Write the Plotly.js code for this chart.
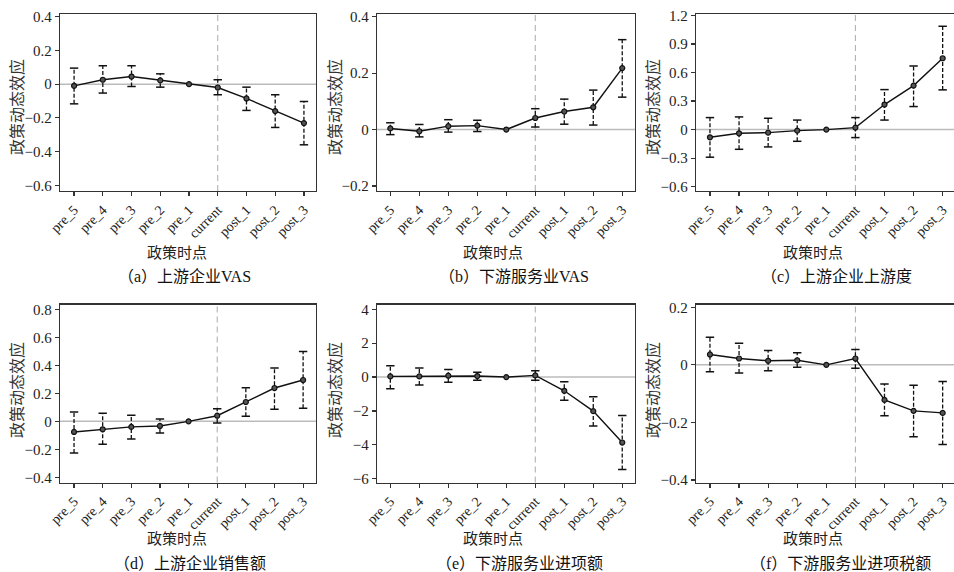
<!DOCTYPE html>
<html>
<head>
<meta charset="utf-8">
<script src="https://cdn.plot.ly/plotly-3.0.1.min.js"></script>
<style>html,body{margin:0;padding:0;background:#fff;}#chart{width:954px;height:572px;}</style>
</head>
<body>
<div id="chart"></div>
<script>
// ---- data ----
const categories = ['pre_5','pre_4','pre_3','pre_2','pre_1','current','post_1','post_2','post_3'];

const coefA = [-0.010, 0.026, 0.045, 0.022, 0, -0.020, -0.085, -0.160, -0.231];
const loA   = [-0.117, -0.053, -0.014, -0.018, null, -0.063, -0.156, -0.257, -0.360];
const hiA   = [0.095, 0.109, 0.109, 0.061, null, 0.026, -0.018, -0.063, -0.103];

const coefB = [0.004, -0.006, 0.012, 0.014, 0, 0.041, 0.064, 0.079, 0.218];
const loB   = [-0.018, -0.026, -0.009, -0.007, null, 0.009, 0.019, 0.016, 0.115];
const hiB   = [0.024, 0.018, 0.035, 0.033, null, 0.074, 0.108, 0.140, 0.319];

const coefC = [-0.081, -0.039, -0.032, -0.011, 0, 0.021, 0.263, 0.462, 0.749];
const loC   = [-0.290, -0.207, -0.182, -0.123, null, -0.084, 0.100, 0.242, 0.417];
const hiC   = [0.126, 0.133, 0.119, 0.100, null, 0.126, 0.420, 0.668, 1.085];

const coefD = [-0.076, -0.057, -0.040, -0.033, 0, 0.040, 0.138, 0.238, 0.295];
const loD   = [-0.226, -0.164, -0.126, -0.083, null, -0.012, 0.036, 0.086, 0.093];
const hiD   = [0.067, 0.057, 0.043, 0.017, null, 0.090, 0.240, 0.381, 0.498];

const coefE = [0.04, 0.04, 0.08, 0.06, 0, 0.10, -0.81, -2.01, -3.86];
const loE   = [-0.69, -0.47, -0.30, -0.18, null, -0.18, -1.36, -2.89, -5.45];
const hiE   = [0.67, 0.53, 0.45, 0.28, null, 0.37, -0.28, -1.16, -2.26];

const coefF = [0.036, 0.022, 0.014, 0.016, 0, 0.022, -0.122, -0.160, -0.167];
const loF   = [-0.024, -0.028, -0.021, -0.008, null, -0.012, -0.177, -0.250, -0.277];
const hiF   = [0.096, 0.075, 0.050, 0.042, null, 0.053, -0.067, -0.071, -0.058];

const captions = ['（a）上游企业VAS','（b）下游服务业VAS','（c）上游企业上游度',
                  '（d）上游企业销售额','（e）下游服务业进项额','（f）下游服务业进项税额'];
const yTitle = '政策动态效应';
const xTitle = '政策时点';
const policyStart = 'current';

// ---- layout geometry (pixels) ----
const W = 954, H = 572;
const panels = [
  {coef: coefA, lo: loA, hi: hiA, px: [60, 316], py: [14, 191], xr: [-0.49, 8.42], yr: [-0.634, 0.416], dtick: 0.2, yt: [17, 107], xt: [177, 253], cap: [184, 276]},
  {coef: coefB, lo: loB, hi: hiB, px: [377, 635], py: [14, 191], xr: [-0.46, 8.44], yr: [-0.218, 0.41], dtick: 0.2, yt: [335, 107], xt: [493, 253], cap: [514, 276]},
  {coef: coefC, lo: loC, hi: hiC, px: [696, 954], py: [14, 191], xr: [-0.48, 8.39], yr: [-0.645, 1.214], dtick: 0.3, yt: [653, 107], xt: [813, 253], cap: [836, 276]},
  {coef: coefD, lo: loD, hi: hiD, px: [60, 316], py: [304.7, 482.5], xr: [-0.49, 8.45], yr: [-0.437, 0.833], dtick: 0.2, yt: [17, 390], xt: [177, 539], cap: [190, 563]},
  {coef: coefE, lo: loE, hi: hiE, px: [377, 635], py: [304.7, 482.5], xr: [-0.46, 8.44], yr: [-6.22, 4.27], dtick: 2, yt: [335, 390], xt: [493, 539], cap: [519, 563]},
  {coef: coefF, lo: loF, hi: hiF, px: [696, 954], py: [304.7, 482.5], xr: [-0.48, 8.39], yr: [-0.409, 0.209], dtick: 0.2, yt: [653, 390], xt: [813, 539], cap: [840, 563]}
];

const FONT = 'Liberation Serif, Times New Roman, serif';
const CJK = 'Liberation Serif, Noto Sans CJK SC, serif';

const traces = [];
const layout = {
  width: W, height: H,
  margin: {l: 0, r: 0, t: 0, b: 0},
  paper_bgcolor: '#fff', plot_bgcolor: '#fff',
  showlegend: false,
  font: {family: FONT, color: '#222'},
  shapes: [], annotations: []
};

panels.forEach((p, k) => {
  const n = k + 1;
  const xa = 'x' + (n === 1 ? '' : n), ya = 'y' + (n === 1 ? '' : n);
  const xkey = 'xaxis' + (n === 1 ? '' : n), ykey = 'yaxis' + (n === 1 ? '' : n);

  const segX = [], segY = [], capX = [], capY = [];
  categories.forEach((c, i) => {
    if (p.lo[i] !== null && p.hi[i] !== null) {
      segX.push(c, c, null); segY.push(p.lo[i], p.hi[i], null);
      capX.push(c, c); capY.push(p.lo[i], p.hi[i]);
    }
  });
  traces.push({x: segX, y: segY, xaxis: xa, yaxis: ya, type: 'scatter', mode: 'lines',
    line: {color: '#111', width: 1.3, dash: '4px,2px'}, hoverinfo: 'skip', connectgaps: false});
  traces.push({x: capX, y: capY, xaxis: xa, yaxis: ya, type: 'scatter', mode: 'markers',
    marker: {symbol: 'line-ew', size: 6, line: {color: '#111', width: 1.5}}, hoverinfo: 'skip'});
  traces.push({x: categories, y: p.coef, xaxis: xa, yaxis: ya, type: 'scatter', mode: 'lines+markers',
    line: {color: '#111', width: 1.4},
    marker: {symbol: 'circle', size: 5, color: '#555', line: {color: '#111', width: 1.2}}});

  layout[xkey] = {
    domain: [p.px[0] / W, p.px[1] / W], anchor: ya, type: 'category',
    categoryorder: 'array', categoryarray: categories,
    range: p.xr, tickangle: -45, ticks: 'outside', ticklen: 4, tickwidth: 1.2, tickcolor: '#333',
    showline: true, linecolor: '#333', linewidth: 1.3, mirror: true,
    showgrid: false, zeroline: false,
    tickfont: {family: FONT, size: 14, color: '#222'}
  };
  layout[ykey] = {
    domain: [1 - p.py[1] / H, 1 - p.py[0] / H], anchor: xa,
    range: p.yr, tick0: 0, dtick: p.dtick, ticks: 'outside', ticklen: 4, tickwidth: 1.2, tickcolor: '#333',
    showline: true, linecolor: '#333', linewidth: 1.3, mirror: true,
    showgrid: false, zeroline: false,
    tickfont: {family: FONT, size: 15, color: '#222'}
  };

  layout.shapes.push({type: 'line', layer: 'below', xref: xa + ' domain', yref: ya,
    x0: 0, x1: 1, y0: 0, y1: 0, line: {color: '#bbb', width: 1.5}});
  layout.shapes.push({type: 'line', layer: 'below', xref: xa, yref: ya + ' domain',
    x0: policyStart, x1: policyStart, y0: 0, y1: 1, line: {color: '#aaa', width: 1, dash: '6px,4px'}});

  layout.annotations.push({xref: 'paper', yref: 'paper', x: p.yt[0] / W, y: 1 - p.yt[1] / H,
    text: yTitle, textangle: -90, showarrow: false, xanchor: 'center', yanchor: 'middle',
    font: {family: CJK, size: 16, color: '#333'}});
  layout.annotations.push({xref: 'paper', yref: 'paper', x: p.xt[0] / W, y: 1 - p.xt[1] / H,
    text: xTitle, showarrow: false, xanchor: 'center', yanchor: 'middle',
    font: {family: CJK, size: 15, color: '#222'}});
  layout.annotations.push({xref: 'paper', yref: 'paper', x: p.cap[0] / W, y: 1 - p.cap[1] / H,
    text: captions[k], showarrow: false, xanchor: 'center', yanchor: 'middle',
    font: {family: CJK, size: 16, color: '#111'}});
});

Plotly.newPlot('chart', traces, layout, {displayModeBar: false, staticPlot: true});
</script>
</body>
</html>
